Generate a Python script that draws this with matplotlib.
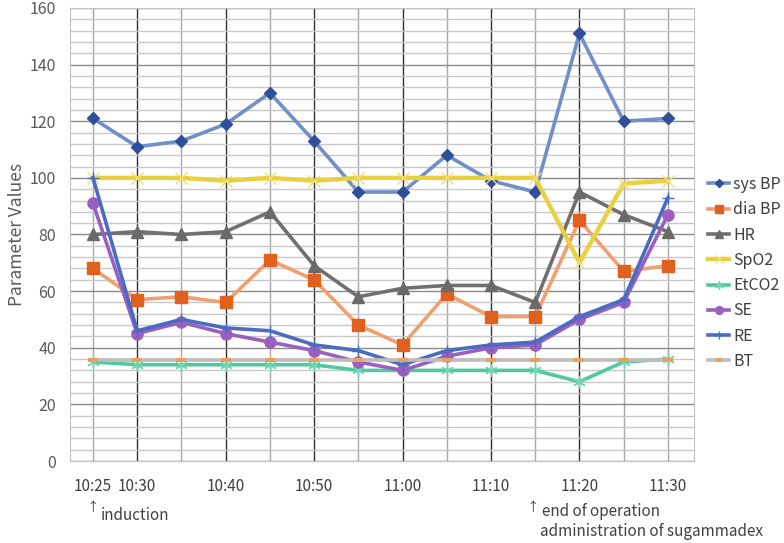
import matplotlib
matplotlib.use('Agg')
import matplotlib.pyplot as plt
from matplotlib.ticker import MultipleLocator

plt.rcParams['font.family'] = ['Noto Sans CJK KR', 'DejaVu Sans']

# tiempos (cada 5 minutos)
times = ['10:25', '10:30', '10:35', '10:40', '10:45', '10:50', '10:55',
         '11:00', '11:05', '11:10', '11:15', '11:20', '11:25', '11:30']
shown = ['10:25', '10:30', '10:40', '10:50', '11:00', '11:10', '11:20', '11:30']

sys_bp = [121, 111, 113, 119, 130, 113, 95, 95, 108, 99, 95, 151, 120, 121]
dia_bp = [68, 57, 58, 56, 71, 64, 48, 41, 59, 51, 51, 85, 67, 69]
hr = [80, 81, 80, 81, 88, 69, 58, 61, 62, 62, 56, 95, 87, 81]
spo2 = [100, 100, 100, 99, 100, 99, 100, 100, 100, 100, 100, 70, 98, 99]
etco2 = [35, 34, 34, 34, 34, 34, 32, 32, 32, 32, 32, 28, 35, 36]
se = [91, 45, 49, 45, 42, 39, 35, 32, 37, 40, 41, 50, 56, 87]
re = [100, 46, 50, 47, 46, 41, 39, 34, 39, 41, 42, 51, 57, 93]
bt = [35.6] * 14

x = list(range(len(times)))

fig = plt.figure(figsize=(7.84, 5.43), dpi=100)
ax = fig.add_axes([70 / 784, 82 / 543, 624 / 784, 453 / 543])

# grilla
ax.yaxis.set_major_locator(MultipleLocator(20))
ax.yaxis.set_minor_locator(MultipleLocator(4))
ax.grid(which='minor', axis='y', color='#c8c8c8', lw=1.0, zorder=0)
ax.grid(which='major', axis='y', color='#8a8a8a', lw=1.0, zorder=0)
for i, t in enumerate(times):
    dark = t in shown and t not in ('10:25', '11:30')
    ax.axvline(i, color='#303030' if dark else '#a8a8a8', lw=1.0, zorder=0)

lw = 2.6
ax.plot(x, sys_bp, color='#6f8fc8', lw=lw, marker='D', ms=6,
        mfc='#2f4f9a', mec='#2f4f9a', label='sys BP', zorder=2)
ax.plot(x, dia_bp, color='#f0a070', lw=lw, marker='s', ms=8,
        mfc='#e0601e', mec='#e0601e', label='dia BP', zorder=2)
ax.plot(x, hr, color='#707070', lw=lw, marker='^', ms=8,
        mfc='#6a6a6a', mec='#6a6a6a', label='HR', zorder=2)
ax.plot(x, spo2, color='#e8d040', lw=lw + 0.6, marker='x', ms=8,
        mfc='#e8d040', mec='#f0e070', label='SpO2', zorder=2)
ax.plot(x, etco2, color='#50c8a0', lw=lw, marker=(6, 2, 0), ms=9,
        mec='#70d8b0', label='EtCO2', zorder=2)
ax.plot(x, se, color='#9a5fc0', lw=lw, marker='o', ms=8,
        mfc='#9a5fc0', mec='#9a5fc0', label='SE', zorder=2)
ax.plot(x, re, color='#4a6cc0', lw=lw, marker='+', ms=9,
        mec='#4a6cc0', label='RE', zorder=2)
ax.plot(x, bt, color='#c0bcb8', lw=lw, marker='_', ms=7, mew=3,
        mec='#e8a060', label='BT', zorder=2)

ax.set_xlim(-0.52, 13.59)
ax.set_ylim(0, 160)
ax.set_xticks(x)
ax.set_xticklabels([t if t in shown else '' for t in times],
                   fontsize=11, color='#404040')
ax.tick_params(axis='x', length=0, pad=12)
ax.tick_params(axis='y', which='both', length=0, pad=10,
               labelsize=11.5, labelcolor='#595959')
ax.set_ylabel('Parameter Values', fontsize=12.5, color='#595959')
ax.yaxis.set_label_coords(-(70 - 26) / 624, 0.5)
for s in ax.spines.values():
    s.set_color('#c0c0c0')

fig.legend(loc='center left', bbox_to_anchor=(694 / 784, 1 - 273 / 543),
           frameon=False, fontsize=11.5, handlelength=1.3,
           handletextpad=0.25, labelspacing=0.52, markerscale=0.7,
           labelcolor='#404040')

# anotaciones
fig.text(87 / 784, 1 - 508 / 543, '↑', fontsize=9, color='#404040',
         va='center')
fig.text(101 / 784, 1 - 516 / 543, 'induction', fontsize=11,
         color='#404040', va='center')
fig.text(527 / 784, 1 - 507 / 543, '↑', fontsize=9, color='#404040',
         va='center')
fig.text(542 / 784, 1 - 512 / 543, 'end of operation', fontsize=11,
         color='#404040', va='center')
fig.text(540 / 784, 1 - 531 / 543, 'administration of sugammadex',
         fontsize=11, color='#404040', va='center')

fig.savefig('out.png', dpi=100)
